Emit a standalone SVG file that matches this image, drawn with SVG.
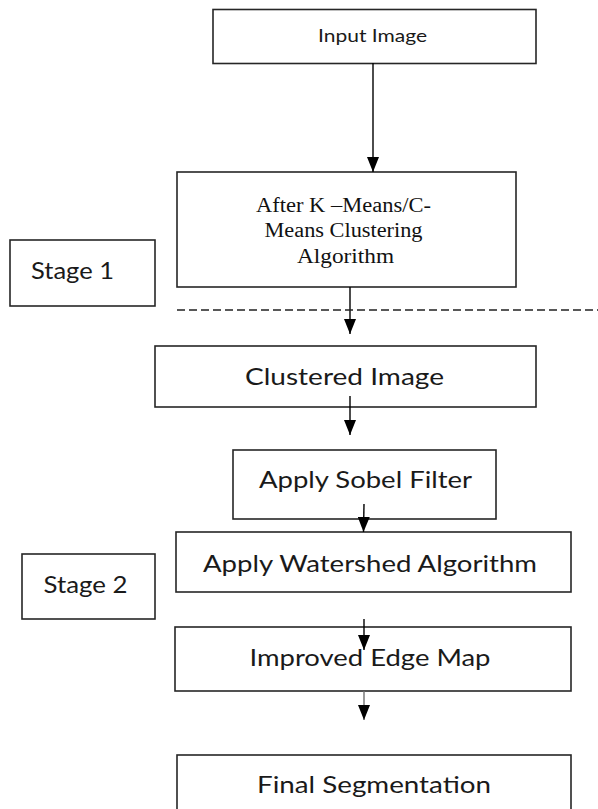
<svg xmlns="http://www.w3.org/2000/svg" width="598" height="809" viewBox="0 0 598 809">
  <style>
    .box { fill: #ffffff; stroke: #262626; stroke-width: 1.6; }
    .sans { font-family: Lato, "Open Sans", "Liberation Sans", sans-serif; fill: #1a1a1a; }
    .serif { font-family: "Liberation Serif", "DejaVu Serif", serif; fill: #111111; }
    .flow { stroke: #000000; stroke-width: 1.4; fill: none; marker-end: url(#head); }
    .divider { stroke: #222222; stroke-width: 1.3; stroke-dasharray: 8 4; fill: none; }
  </style>
  <defs>
    <marker id="head" viewBox="0 0 15 12" refX="15" refY="6" markerWidth="15" markerHeight="12" markerUnits="userSpaceOnUse" orient="auto">
      <path d="M0,0 L15,6 L0,12 z" fill="#000000"/>
    </marker>
  </defs>
  <rect width="598" height="809" fill="#ffffff"/>

  <g id="input-image">
    <rect class="box" x="213" y="9.5" width="323" height="54"/>
    <text class="sans" x="318" y="41.5" font-size="18" textLength="109" lengthAdjust="spacingAndGlyphs">Input Image</text>
  </g>

  <g id="kmeans">
    <rect class="box" x="177" y="172" width="339" height="115"/>
    <text class="serif" font-size="20" text-anchor="middle">
      <tspan x="346" y="211.5" textLength="175" lengthAdjust="spacingAndGlyphs">After K –Means/C-</tspan>
      <tspan x="346" y="236.5" textLength="158" lengthAdjust="spacingAndGlyphs">Means Clustering</tspan>
      <tspan x="345.5" y="263" textLength="97" lengthAdjust="spacingAndGlyphs">Algorithm</tspan>
    </text>
  </g>

  <g id="stage-1">
    <rect class="box" x="10" y="240" width="145" height="66"/>
    <text class="sans" x="31" y="279" font-size="23" textLength="83" lengthAdjust="spacingAndGlyphs">Stage 1</text>
  </g>

  <g id="clustered-image">
    <rect class="box" x="155" y="346" width="381" height="61"/>
    <text class="sans" x="245" y="385" font-size="23" textLength="199" lengthAdjust="spacingAndGlyphs">Clustered Image</text>
  </g>

  <g id="sobel">
    <rect class="box" x="233" y="450" width="263" height="69"/>
    <text class="sans" x="259" y="488" font-size="23" textLength="213" lengthAdjust="spacingAndGlyphs">Apply Sobel Filter</text>
  </g>

  <g id="watershed">
    <rect class="box" x="176" y="532" width="395" height="60"/>
    <text class="sans" x="203" y="571.5" font-size="23" textLength="334" lengthAdjust="spacingAndGlyphs">Apply Watershed Algorithm</text>
  </g>

  <g id="stage-2">
    <rect class="box" x="22" y="554" width="133" height="65"/>
    <text class="sans" x="43.5" y="593" font-size="23" textLength="84" lengthAdjust="spacingAndGlyphs">Stage 2</text>
  </g>

  <g id="edge-map">
    <rect class="box" x="175" y="627" width="396" height="64"/>
    <text class="sans" x="249.5" y="666" font-size="23" textLength="241" lengthAdjust="spacingAndGlyphs">Improved Edge Map</text>
  </g>

  <g id="final-segmentation">
    <rect class="box" x="177" y="755" width="394" height="70"/>
    <text class="sans" x="257" y="793" font-size="23" textLength="234" lengthAdjust="spacingAndGlyphs">Final Segmentation</text>
  </g>

  <!-- connectors sit on top of the boxes so their overlapping ends stay visible -->
  <g id="connectors">
    <line class="flow" x1="373" y1="63" x2="373" y2="172"/>
    <line class="flow" x1="350" y1="287" x2="350" y2="334"/>
    <line class="divider" x1="177" y1="310" x2="598" y2="310"/>
    <line class="flow" x1="350" y1="396" x2="350" y2="435"/>
    <line class="flow" x1="364" y1="504" x2="363.5" y2="532"/>
    <line class="flow" x1="364" y1="619" x2="364" y2="650"/>
    <line class="flow" x1="364" y1="691" x2="364" y2="720" style="stroke:#707070"/>
  </g>
</svg>
